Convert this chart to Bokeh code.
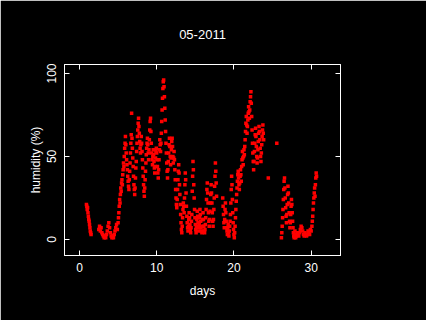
from bokeh.plotting import figure
from bokeh.models import LinearAxis, Range1d, FixedTicker, ColumnDataSource
from bokeh.embed import file_html
from bokeh.resources import INLINE

title_text = "05-2011"
x_label = "days"
y_label = "humidity (%)"
x_ticks = [0, 10, 20, 30]
y_ticks = [0, 50, 100]

days = [
    0.90, 0.95, 1.00, 1.05, 1.10, 1.15, 1.20, 1.25, 1.30, 1.35, 1.40, 1.45, 1.50,
    2.5, 2.6, 2.7, 2.8, 2.9, 3.0, 3.1, 3.2, 3.3, 3.4,
    3.5, 3.6, 3.7, 3.8, 3.9, 4.0, 4.1, 4.2, 4.3, 4.4,
    4.5, 4.6, 4.7, 4.8, 4.9, 5.0,
    5.05, 5.10, 5.15, 5.20, 5.25, 5.30, 5.35, 5.40, 5.45, 5.50,
    5.55, 5.60, 5.65, 5.70, 5.75, 5.80, 5.85, 5.90, 5.95, 6.00,
    6.05, 6.10, 6.15, 6.20, 6.25, 6.30, 6.35, 6.40, 6.45, 6.50,
    6.55, 6.60, 6.65, 6.70, 6.75, 6.80, 6.85, 6.90, 6.95, 7.00,
    7.05, 7.10, 7.15, 7.20, 7.25, 7.30, 7.35, 7.40, 7.45, 7.50,
    7.55, 7.60, 7.65, 7.70, 7.75, 7.80, 7.85, 7.90, 7.95, 8.00,
    8.05, 8.10, 8.15, 8.20, 8.25, 8.30, 8.35, 8.40, 8.45, 8.50,
    8.55, 8.60, 8.65, 8.70, 8.75, 8.80, 8.85, 8.90, 8.95, 9.00,
    9.05, 9.10, 9.15, 9.20, 9.25, 9.30, 9.35, 9.40, 9.45, 9.50,
    9.55, 9.60, 9.65, 9.70, 9.75, 9.80, 9.85, 9.90, 9.95, 10.00,
    10.05, 10.10, 10.15, 10.20, 10.25, 10.30, 10.35, 10.40, 10.45, 10.50,
    10.55, 10.60, 10.65, 10.70, 10.75, 10.80, 10.85, 10.90, 10.95, 11.00,
    11.05, 11.10, 11.15, 11.20, 11.25, 11.30, 11.35, 11.40, 11.45, 11.50,
    11.55, 11.60, 11.65, 11.70, 11.75, 11.80, 11.85, 11.90, 11.95, 12.00,
    12.05, 12.10, 12.15, 12.20, 12.25, 12.30, 12.35, 12.40, 12.45, 12.50,
    12.55, 12.60, 12.65, 12.70, 12.75, 12.80, 12.85, 12.90, 12.95, 13.00,
    13.05, 13.10, 13.15, 13.20, 13.25, 13.30, 13.35, 13.40, 13.45, 13.50,
    13.55, 13.60, 13.65, 13.70, 13.75, 13.80, 13.85, 13.90, 13.95, 14.00,
    14.05, 14.10, 14.15, 14.20, 14.25, 14.30, 14.35, 14.40, 14.45, 14.50,
    14.55, 14.60, 14.65, 14.70, 14.75, 14.80, 14.85, 14.90, 14.95, 15.00,
    15.05, 15.10, 15.15, 15.20, 15.25, 15.30, 15.35, 15.40, 15.45, 15.50,
    15.55, 15.60, 15.65, 15.70, 15.75, 15.80, 15.85, 15.90, 15.95, 16.00,
    16.05, 16.10, 16.15, 16.20, 16.25, 16.30, 16.35, 16.40, 16.45, 16.50,
    16.55, 16.60, 16.65, 16.70, 16.75, 16.80, 16.85, 16.90, 16.95, 17.00,
    17.05, 17.10, 17.15, 17.20, 17.25, 17.30, 17.35, 17.40, 17.45, 17.50,
    17.55, 17.60, 17.65, 17.70, 17.75,
    18.55, 18.60, 18.65, 18.70, 18.75, 18.80, 18.85, 18.90, 18.95, 19.00,
    19.05, 19.10, 19.15, 19.20, 19.25, 19.30, 19.35, 19.40, 19.45, 19.50,
    19.55, 19.60, 19.65, 19.70, 19.75, 19.80, 19.85, 19.90, 19.95, 20.00,
    20.05, 20.10, 20.15, 20.20, 20.25, 20.30, 20.35, 20.40, 20.45, 20.50,
    20.55, 20.60, 20.65, 20.70, 20.75, 20.80, 20.85, 20.90, 20.95, 21.00,
    21.05, 21.10, 21.15, 21.20, 21.25, 21.30, 21.35, 21.40, 21.45, 21.50,
    21.55, 21.60, 21.65, 21.70, 21.75, 21.80, 21.85, 21.90, 21.95, 22.00,
    22.05, 22.10, 22.15, 22.20, 22.25, 22.30, 22.35, 22.40, 22.45, 22.50,
    22.55, 22.60, 22.65, 22.70, 22.75, 22.80, 22.85, 22.90, 22.95, 23.00,
    23.05, 23.10, 23.15, 23.20, 23.25, 23.30, 23.35, 23.40, 23.45, 23.50,
    23.55, 23.60, 23.65, 23.70, 23.75, 23.80, 23.85,
    24.45, 25.55,
    26.15, 26.20, 26.25, 26.30, 26.35, 26.40, 26.45, 26.50, 26.55, 26.60,
    26.65, 26.70, 26.75, 26.80, 26.85, 26.90, 26.95, 27.00, 27.05, 27.10,
    27.15, 27.20, 27.25, 27.30, 27.35, 27.40, 27.45, 27.50, 27.55, 27.60,
    27.65, 27.70, 27.75, 27.80, 27.85, 27.90, 27.95,
    28.0, 28.1, 28.2, 28.3, 28.4, 28.5, 28.6, 28.7, 28.8, 28.9,
    29.0, 29.1, 29.2, 29.3, 29.4, 29.5, 29.6, 29.7, 29.8, 29.9, 30.0,
    30.10, 30.15, 30.20, 30.25, 30.30, 30.35, 30.40, 30.45, 30.50, 30.55,
    30.60, 30.65, 30.70,
]

humidity = [
    21, 20, 18, 19, 16, 14, 12, 11, 9, 7, 5, 4, 3,
    6, 8, 5, 7, 4, 3, 2, 1, 2, 1,
    3, 5, 8, 10, 7, 4, 2, 1, 2, 1,
    3, 5, 7, 9, 6, 10,
    13, 16, 20, 24, 22, 27, 31, 29, 34, 36,
    33, 39, 42, 46, 44, 50, 55, 58, 62, 57,
    52, 48, 45, 42, 38, 35, 32, 30, 36, 41,
    46, 52, 58, 63, 76, 61, 55, 49, 44, 38,
    33, 30, 27, 31, 37, 43, 47, 53, 58, 62,
    66, 70, 73, 68, 64, 59, 55, 52, 57, 62,
    58, 53, 48, 43, 38, 33, 29, 26, 31, 36,
    41, 46, 51, 55, 58, 61, 57, 52, 48, 54,
    60, 66, 71, 73, 65, 58, 52, 48, 45, 50,
    54, 51, 47, 43, 40, 44, 49, 53, 55, 52,
    48, 44, 40, 37, 42, 48, 54, 60, 57, 53,
    58, 64, 71, 78, 85, 91, 95, 96, 92, 86,
    79, 72, 65, 58, 52, 46, 41, 37, 42, 47,
    52, 57, 61, 56, 50, 45, 49, 54, 59, 61,
    56, 50, 46, 49, 53, 48, 42, 36, 30, 25,
    21, 19, 24, 30, 36, 41, 45, 40, 33, 27,
    21, 15, 10, 6, 4, 8, 13, 18, 22, 20,
    16, 25, 33, 40, 36, 28, 20, 14, 10, 7,
    5, 8, 12, 16, 13, 9, 6, 4, 7, 11,
    15, 29, 38, 47, 42, 33, 25, 18, 13, 9,
    6, 4, 8, 12, 17, 14, 10, 7, 5, 9,
    13, 18, 15, 11, 7, 5, 4, 8, 12, 16,
    12, 8, 5, 4, 6, 9, 13, 18, 24, 30,
    34, 28, 22, 16, 11, 8, 12, 17, 22, 27,
    33, 28, 22, 16, 11, 8, 12, 18, 25, 32,
    38, 46, 41, 34, 26,
    25, 20, 15, 10, 7, 12, 18, 22, 16, 11,
    7, 5, 3, 6, 9, 4, 2, 5, 8, 11,
    15, 22, 30, 38, 33, 24, 16, 10, 6, 3,
    1, 4, 8, 13, 18, 23, 27, 31, 35, 39,
    41, 37, 33, 30, 34, 38, 42, 39, 35, 44,
    48, 53, 49, 45, 50, 54, 51, 56, 60, 65,
    70, 74, 69, 64, 68, 72, 76, 80, 77, 73,
    78, 83, 86, 89, 82, 74, 66, 58, 52, 47,
    42, 47, 53, 58, 63, 67, 62, 56, 50, 46,
    49, 54, 59, 64, 68, 65, 60, 55, 50, 47,
    52, 57, 62, 66, 69, 64, 60,
    37, 58,
    1, 4, 8, 13, 18, 24, 30, 35, 37, 31,
    25, 19, 14, 10, 15, 21, 27, 32, 28, 22,
    16, 11, 7, 10, 15, 20, 24, 21, 16, 11,
    7, 4, 2, 1, 3, 5, 3,
    1, 2, 4, 3, 2, 4, 6, 8, 7, 5,
    3, 2, 4, 3, 2, 3, 5, 4, 3, 6, 5,
    8, 11, 14, 18, 22, 25, 28, 31, 26, 33,
    37, 40, 38,
]

n = min(len(days), len(humidity))
src = ColumnDataSource(data=dict(day=days[:n], hum=humidity[:n]))

FONT = "Liberation Sans"

p = figure(width=426, height=320, output_backend="svg", toolbar_location=None,
           x_range=Range1d(-1.94, 33.8), y_range=Range1d(-9.7, 105.4),
           min_border_left=64, min_border_right=86, min_border_top=64, min_border_bottom=65,
           background_fill_color="black", border_fill_color="black",
           outline_line_color="white", outline_line_width=1,
           title=title_text)

p.title.align = "center"
p.title.text_color = "white"
p.title.text_font = FONT
p.title.text_font_size = "13px"
p.title.text_font_style = "normal"
p.title.standoff = 52

p.grid.visible = False

def style_axis(ax, labels=True):
    ax.axis_line_color = "white"
    ax.major_tick_line_color = "white"
    ax.major_tick_in = 5
    ax.major_tick_out = 0
    ax.minor_tick_line_color = None
    ax.major_label_text_color = "white" if labels else None
    ax.major_label_text_font = FONT
    ax.major_label_text_font_size = "12px" if labels else "1px"
    ax.axis_label_text_color = "white"
    ax.axis_label_text_font = FONT
    ax.axis_label_text_font_size = "12px"
    ax.axis_label_text_font_style = "normal"

xa = p.xaxis[0]
ya = p.yaxis[0]
xa.ticker = FixedTicker(ticks=x_ticks)
ya.ticker = FixedTicker(ticks=y_ticks)
xa.axis_label = x_label
ya.axis_label = y_label
style_axis(xa)
style_axis(ya)
xa.major_label_standoff = 7
xa.axis_label_standoff = 9
ya.major_label_orientation = "vertical"
ya.major_label_standoff = 8
ya.axis_label_standoff = 2

ra = LinearAxis(ticker=FixedTicker(ticks=y_ticks))
ta = LinearAxis(ticker=FixedTicker(ticks=x_ticks))
style_axis(ra, labels=False)
style_axis(ta, labels=False)
ta.major_label_standoff = 0
ra.major_label_standoff = 0
p.add_layout(ra, "right")
p.add_layout(ta, "above")

p.scatter(x="day", y="hum", source=src, marker="square", size=3.5,
          fill_color="#ff0000", line_color=None)

open("out.html", "w").write(file_html(p, INLINE))
